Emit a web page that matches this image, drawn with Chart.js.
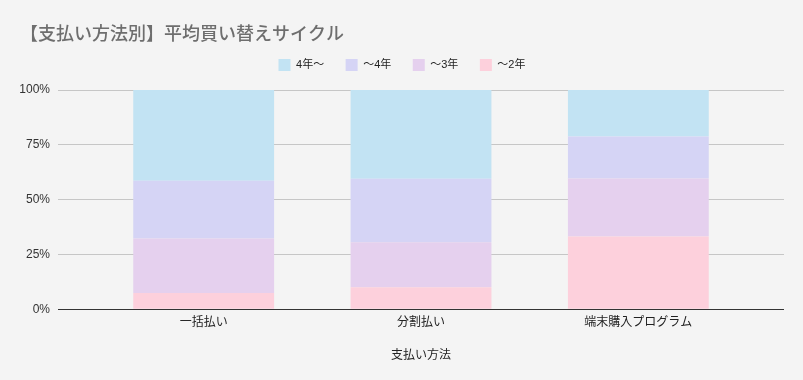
<!DOCTYPE html>
<html>
<head>
<meta charset="utf-8">
<script src="https://cdn.jsdelivr.net/npm/chart.js@4.4.1/dist/chart.umd.min.js"></script>
<style>
html,body{margin:0;padding:0;background:#f4f4f4;}
#wrap{width:803px;height:380px;position:relative;}
</style>
</head>
<body>
<div id="wrap"><canvas id="c" width="803" height="380"></canvas></div>
<script>
const categories = ['一括払い', '分割払い', '端末購入プログラム'];
const seriesNames = ['～2年', '～3年', '～4年', '4年～'];
const upTo2 = [7.4, 10.0, 33.2];
const upTo3 = [24.9, 20.6, 26.5];
const upTo4 = [26.3, 28.9, 19.1];
const over4 = [41.4, 40.5, 21.2];
const yTicks = [0, 25, 50, 75, 100];
const seriesColors = ['#fdd0dc', '#e5d0ee', '#d5d4f5', '#c2e3f3'];

const FONT = 'Arial, "Liberation Sans", "Noto Sans CJK JP", sans-serif';
const seriesValues = [upTo2, upTo3, upTo4, over4];

const gridColor = ctx => (ctx.tick && ctx.tick.value === 0) ? '#333333' : '#c6c6c6';

new Chart(document.getElementById('c'), {
  type: 'bar',
  data: {
    labels: categories,
    datasets: seriesNames.map((n, i) => ({
      label: n,
      data: seriesValues[i],
      backgroundColor: seriesColors[i],
      borderWidth: 0,
      categoryPercentage: 1,
      barPercentage: 0.648
    }))
  },
  options: {
    responsive: false,
    animation: false,
    devicePixelRatio: 1,
    layout: { padding: { left: 20, right: 19, top: 24, bottom: 17 } },
    plugins: {
      tooltip: { enabled: false },
      title: {
        display: true,
        text: '【支払い方法別】平均買い替えサイクル',
        align: 'start',
        color: '#6e6e6e',
        font: { family: FONT, size: 18, weight: '500' },
        padding: { top: 0, bottom: -8 }
      },
      legend: {
        display: true,
        reverse: true,
        labels: {
          color: '#222222',
          font: { family: FONT, size: 11 },
          boxWidth: 12,
          boxHeight: 12,
          padding: 21.5
        }
      }
    },
    scales: {
      x: {
        stacked: true,
        grid: { display: false, drawTicks: false },
        border: { display: true, color: '#333333', width: 1 },
        ticks: { color: '#222222', font: { family: FONT, size: 12 }, padding: 6, maxRotation: 0 },
        title: {
          display: true,
          text: '支払い方法',
          color: '#222222',
          font: { family: FONT, size: 12 },
          padding: { top: 13, bottom: 0 }
        }
      },
      xTopSpace: {
        position: 'top',
        type: 'category',
        labels: categories,
        grid: { display: false, drawTicks: false },
        border: { display: false },
        ticks: { display: false },
        afterFit: s => { s.height = 9; }
      },
      y: {
        stacked: true,
        min: 0,
        max: 100,
        afterBuildTicks: s => { s.ticks = yTicks.map(v => ({ value: v })); },
        afterFit: s => { s.width = 75; },
        grid: { color: gridColor, tickColor: gridColor, tickLength: 37, lineWidth: 1 },
        border: { display: false },
        ticks: { color: '#333333', font: { family: FONT, size: 12 }, padding: 8, callback: v => v + '%' }
      },
      y2: {
        position: 'right',
        min: 0,
        max: 100,
        afterBuildTicks: s => { s.ticks = yTicks.map(v => ({ value: v })); },
        afterFit: s => { s.width = 37; },
        grid: { color: gridColor, tickColor: gridColor, tickLength: 37, drawOnChartArea: false },
        border: { display: false },
        ticks: { display: false }
      }
    }
  }
});
</script>
</body>
</html>
